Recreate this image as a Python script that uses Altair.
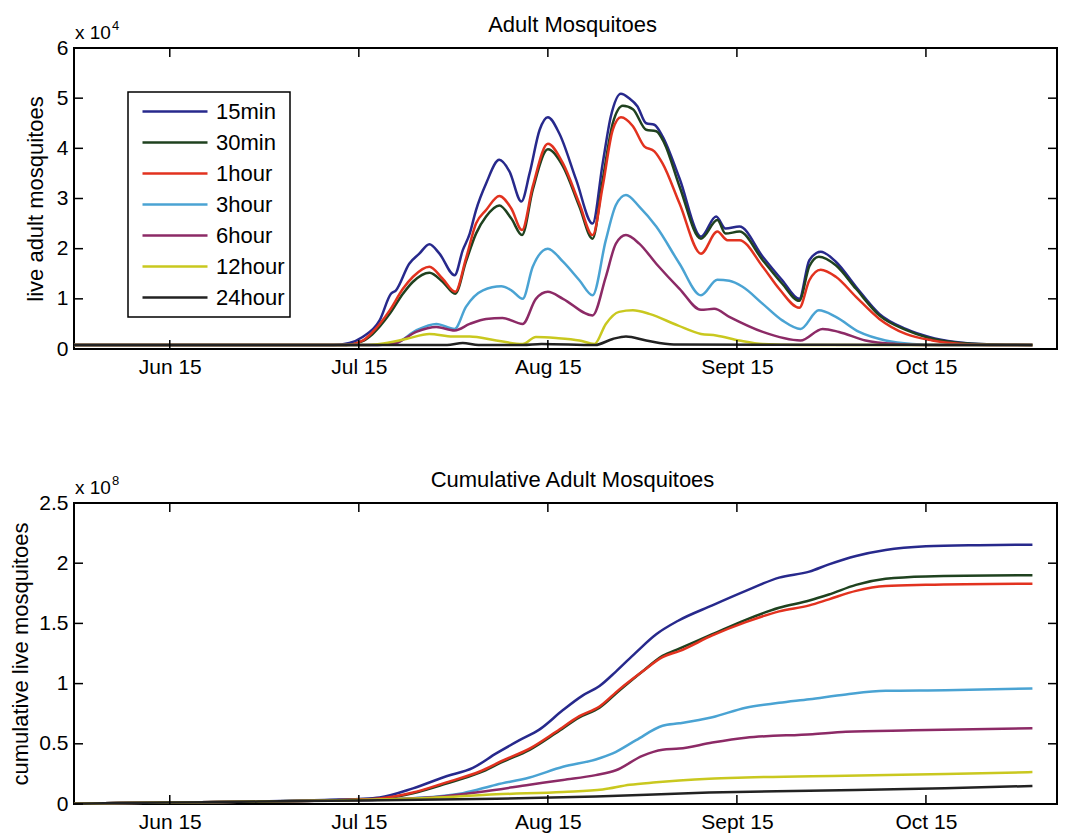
import altair as alt
import pandas as pd

FONT = "Liberation Sans"

series = ["15min", "30min", "1hour", "3hour", "6hour", "12hour", "24hour"]
colors = ["#27298c", "#1f421f", "#e2321f", "#4aa3d3", "#8c2a66", "#c9c81f", "#222222"]

# x axis: days relative to the "Jun 15" tick
tick_days = [0, 30, 60, 90, 120]
tick_names = ["Jun 15", "Jul 15", "Aug 15", "Sept 15", "Oct 15"]
x_domain = [-15.2, 140.8]

# ---- live adult mosquitoes (units of 10^4) ----
live_15min_day = [-15.2, 26, 28.5, 30.6, 33.3, 35.1, 35.9, 38, 39.6, 41.2, 42.8, 45.2, 46.5, 47.6, 48.6,
                  50.2, 52.3, 53.9, 55.8, 57.1, 58.7, 60, 61.8, 64.5, 67.1, 68.7, 70, 71.6, 72.9, 74.2,
                  75.6, 76.9, 78.2, 80.9, 84.3, 86.7, 88.2, 90.4, 94.1, 97.2, 99.9, 101.5, 103.3, 105.7,
                  108.9, 112.6, 116.8, 120.5, 124.7, 128.4, 136.9]
live_15min = [0.08, 0.08, 0.12, 0.24, 0.57, 1.1, 1.17, 1.7, 1.9, 2.09, 1.9, 1.47, 1.97, 2.3, 2.77,
              3.3, 3.77, 3.54, 2.94, 3.5, 4.37, 4.62, 4.3, 3.37, 2.5, 3.7, 4.64, 5.09, 5.0, 4.84,
              4.5, 4.47, 4.24, 3.4, 2.24, 2.64, 2.4, 2.44, 1.84, 1.37, 1.0, 1.77, 1.94, 1.74,
              1.24, 0.7, 0.4, 0.24, 0.14, 0.1, 0.08]

live_30min_day = [-15.2, 28, 30.5, 32.2, 34.9, 37, 38.6, 41.2, 43.3, 45.3, 47, 48.6, 50.2, 52.3, 54.2,
                  55.9, 57.6, 60, 62.4, 65, 67.1, 68.7, 70.3, 71.9, 73.5, 75.6, 77.2, 78.5, 80.9, 84.3,
                  86.9, 88.2, 90.4, 94.1, 97.2, 99.9, 101.5, 103, 105.7, 108.9, 112.6, 116.8, 120.5,
                  124.7, 128.4, 136.9]
live_30min = [0.08, 0.08, 0.15, 0.3, 0.7, 1.1, 1.34, 1.52, 1.34, 1.1, 1.74, 2.3, 2.64, 2.86, 2.6,
              2.27, 3.17, 3.98, 3.64, 2.84, 2.2, 3.37, 4.5, 4.85, 4.78, 4.37, 4.34, 4.1, 3.24, 2.2,
              2.57, 2.3, 2.34, 1.77, 1.3, 0.96, 1.65, 1.84, 1.67, 1.2, 0.67, 0.38, 0.22,
              0.13, 0.1, 0.08]

live_1hour_day = [-15.2, 28, 30.5, 32.2, 34.9, 37, 38.6, 41.2, 43.3, 45.3, 47, 48.6, 50.2, 52.3, 54.2,
                  55.9, 57.6, 60, 62.4, 65, 67.1, 68.7, 70.3, 71.6, 73.5, 75.3, 76.9, 78.2, 80.9, 84.3,
                  86.9, 88.5, 90.4, 94.1, 96.7, 99.9, 101.5, 103.3, 105.7, 108.9, 112.6, 116.8, 121,
                  125.8, 130, 136.9]
live_1hour = [0.08, 0.08, 0.16, 0.34, 0.77, 1.2, 1.44, 1.64, 1.4, 1.14, 1.8, 2.5, 2.77, 3.05, 2.8,
              2.37, 3.24, 4.09, 3.7, 2.9, 2.27, 3.24, 4.37, 4.62, 4.44, 4.04, 3.94, 3.7, 2.9, 1.9,
              2.34, 2.17, 2.17, 1.64, 1.2, 0.82, 1.37, 1.58, 1.44, 1.04, 0.6, 0.3, 0.17,
              0.1, 0.08, 0.08]

live_3hour_day = [-15.2, 33, 35.9, 39.1, 42.3, 45.2, 47, 49.7, 52.6, 54.2, 56, 57.6, 60, 62.4, 65,
                  67.1, 69.2, 70.8, 72.4, 74.5, 77.2, 80.9, 84.3, 86.9, 88.8, 90.9, 94.1, 97.2, 100.1,
                  103, 105.7, 109.4, 113.6, 117.8, 122, 136.9]
live_3hour = [0.08, 0.08, 0.12, 0.37, 0.5, 0.4, 0.84, 1.17, 1.25, 1.17, 1.0, 1.64, 2.0, 1.74, 1.37,
              1.07, 2.17, 2.87, 3.07, 2.84, 2.44, 1.7, 1.07, 1.38, 1.36, 1.24, 0.9, 0.57, 0.4,
              0.77, 0.64, 0.34, 0.17, 0.1, 0.08, 0.08]

live_6hour_day = [-15.2, 33, 35.9, 39.1, 42.3, 45.2, 47.6, 50.2, 52.8, 56, 58.1, 60, 62.4, 67.1, 69.2,
                  70.8, 72.4, 74.5, 77.2, 80.9, 84.3, 86.4, 88.8, 94.1, 100.1, 103.6, 106.2, 110.4,
                  115.2, 120, 136.9]
live_6hour = [0.08, 0.08, 0.12, 0.34, 0.44, 0.37, 0.5, 0.6, 0.62, 0.5, 1.0, 1.14, 1.0, 0.67, 1.44,
              2.1, 2.27, 2.1, 1.7, 1.2, 0.78, 0.8, 0.64, 0.34, 0.17, 0.4, 0.34, 0.17,
              0.1, 0.08, 0.08]

live_12hour_day = [-15.2, 31, 33.3, 37.5, 41.2, 44.9, 47.6, 51.8, 56, 58.1, 61.3, 65, 67.4, 69.2, 71.3,
                   73.5, 76.1, 80.6, 84.3, 86.7, 90.4, 94.1, 100, 136.9]
live_12hour = [0.08, 0.08, 0.1, 0.2, 0.3, 0.25, 0.25, 0.17, 0.1, 0.24, 0.22, 0.17, 0.1, 0.5, 0.74,
               0.77, 0.7, 0.47, 0.3, 0.27, 0.17, 0.1, 0.08, 0.08]

live_24hour_day = [-15.2, 44, 46.5, 49, 56, 59, 67.5, 70.3, 72.4, 75.6, 80, 136.9]
live_24hour = [0.08, 0.08, 0.12, 0.08, 0.08, 0.1, 0.08, 0.2, 0.25, 0.17, 0.09, 0.08]

# ---- cumulative live mosquitoes (units of 10^8) ----
cum_15min_day = [-15.2, 0, 14, 25.4, 30, 33.3, 38.6, 43.9, 48.1, 51.8, 55.5, 58.7, 62.4, 65.5, 68.2,
                 70.8, 74, 77.2, 80.6, 86.1, 91.4, 96.7, 101.5, 104.6, 108.9, 113.6, 120, 128.4, 136.9]
cum_15min = [0.003, 0.012, 0.02, 0.035, 0.042, 0.054, 0.13, 0.23, 0.3, 0.42, 0.53, 0.62, 0.78, 0.9, 0.98,
             1.1, 1.26, 1.41, 1.52, 1.65, 1.77, 1.88, 1.93, 1.99, 2.06, 2.11, 2.14, 2.15, 2.154]

cum_30min_day = [-15.2, 0, 14, 25.4, 30, 33.3, 38.6, 43.9, 49.2, 52.8, 57.1, 61.3, 65, 68.2, 71.3,
                 75, 78.2, 80.85, 86.1, 91.4, 96.7, 101.5, 104.6, 108.9, 113.6, 120, 136.9]
cum_30min = [0.003, 0.012, 0.02, 0.03, 0.036, 0.043, 0.09, 0.17, 0.26, 0.35, 0.45, 0.59, 0.72, 0.8, 0.94,
             1.1, 1.23, 1.29, 1.41, 1.53, 1.63, 1.69, 1.74, 1.82, 1.87, 1.89, 1.9]

cum_1hour_day = cum_30min_day
cum_1hour = [0.003, 0.012, 0.02, 0.03, 0.037, 0.046, 0.095, 0.18, 0.27, 0.36, 0.46, 0.6, 0.73, 0.81, 0.95,
             1.1, 1.22, 1.27, 1.4, 1.51, 1.6, 1.65, 1.7, 1.77, 1.81, 1.82, 1.83]

cum_3hour_day = [-15.2, 0, 14, 25.4, 33, 38.6, 46.5, 51.8, 57.1, 62.4, 67.6, 70.3, 74, 78.2, 80.85,
                 86.1, 91.4, 96.7, 101.5, 107.3, 113.6, 123.1, 136.9]
cum_3hour = [0.003, 0.012, 0.02, 0.03, 0.036, 0.048, 0.09, 0.16, 0.22, 0.31, 0.37, 0.42, 0.53, 0.65, 0.67,
             0.72, 0.8, 0.84, 0.87, 0.91, 0.94, 0.945, 0.96]

cum_6hour_day = [-15.2, 0, 14, 25.4, 33, 41.2, 49.2, 57.1, 62.4, 67.6, 70.8, 75, 78.2, 80.85, 86.1,
                 91.4, 102, 107.3, 117.9, 136.9]
cum_6hour = [0.003, 0.012, 0.02, 0.03, 0.036, 0.054, 0.1, 0.16, 0.2, 0.24, 0.28, 0.4, 0.45, 0.46, 0.51,
             0.55, 0.58, 0.6, 0.612, 0.63]

cum_12hour_day = [-15.2, 0, 14, 25.4, 41.2, 51.8, 62.4, 68.7, 73, 77.2, 80.85, 85.6, 91.4, 107.3, 123.1,
                  136.9]
cum_12hour = [0.003, 0.012, 0.02, 0.03, 0.05, 0.08, 0.1, 0.12, 0.16, 0.18, 0.195, 0.21, 0.22, 0.235, 0.25,
              0.265]

cum_24hour_day = [-15.2, 0, 14, 25.4, 51.8, 67.6, 85.6, 101.5, 123, 136.9]
cum_24hour = [0.003, 0.012, 0.02, 0.027, 0.043, 0.063, 0.095, 0.11, 0.13, 0.15]

live_days = [live_15min_day, live_30min_day, live_1hour_day, live_3hour_day,
             live_6hour_day, live_12hour_day, live_24hour_day]
live_vals = [live_15min, live_30min, live_1hour, live_3hour, live_6hour, live_12hour, live_24hour]
cum_days = [cum_15min_day, cum_30min_day, cum_1hour_day, cum_3hour_day,
            cum_6hour_day, cum_12hour_day, cum_24hour_day]
cum_vals = [cum_15min, cum_30min, cum_1hour, cum_3hour, cum_6hour, cum_12hour, cum_24hour]


def long_table(days_list, vals_list):
    rows = []
    for order, (name, days, vals) in enumerate(zip(series, days_list, vals_list)):
        for d, v in zip(days, vals):
            rows.append({"series": name, "order": order, "day": d, "value": v})
    return pd.DataFrame(rows)


live_df = long_table(live_days, live_vals)
cum_df = long_table(cum_days, cum_vals)

W, H = 983, 301
TICK = 9
x_scale = alt.Scale(domain=x_domain, nice=False, zero=False)
name_list = "[" + ",".join("'%s'" % n for n in tick_names) + "]"
day_list = "[" + ",".join(str(d) for d in tick_days) + "]"
x_axis = alt.Axis(values=tick_days, labelExpr=f"{name_list}[indexof({day_list}, datum.value)]",
                  ticks=False, tickSize=0, domain=False, grid=False, title=None,
                  labelFont=FONT, labelFontSize=21, labelColor="black", labelPadding=7)


def text_layer(txt, x, y, size, align="left"):
    return alt.Chart(pd.DataFrame({"t": [txt]})).mark_text(
        align=align, baseline="alphabetic", font=FONT, fontSize=size, color="black"
    ).encode(x=alt.value(x), y=alt.value(y), text="t:N")


def panel(df, y_max, y_ticks, y_title, title, exponent, show_legend, title_pad):
    y_scale = alt.Scale(domain=[0, y_max], nice=False, zero=True)
    y_axis = alt.Axis(values=y_ticks, labelExpr="'' + datum.value", ticks=False, tickSize=0,
                      domain=False, grid=False, title=y_title, titleFont=FONT, titleFontSize=22,
                      titleFontWeight="normal", titleColor="black", titlePadding=title_pad,
                      labelFont=FONT, labelFontSize=21, labelColor="black", labelPadding=6)
    if show_legend:
        legend = alt.Legend(title=None, orient="none", legendX=54, legendY=44,
                            symbolType="stroke", symbolSize=4225, symbolStrokeWidth=2.5,
                            clipHeight=29, rowPadding=2, padding=5, symbolOffset=8, labelOffset=7,
                            labelFont=FONT, labelFontSize=22, labelColor="black",
                            strokeColor="black", fillColor="white")
    else:
        legend = None

    lines = alt.Chart(df).mark_line(strokeWidth=2.5, interpolate="monotone").encode(
        x=alt.X("day:Q", scale=x_scale, axis=x_axis),
        y=alt.Y("value:Q", scale=y_scale, axis=y_axis),
        color=alt.Color("series:N", scale=alt.Scale(domain=series, range=colors), legend=legend),
        order=alt.Order("order:Q"),
    )

    # inward-pointing tick marks on all four sides of the box
    xt = pd.DataFrame({"day": tick_days})
    yt = pd.DataFrame({"value": y_ticks})
    rule = dict(color="black", strokeWidth=1.5)
    x_enc = alt.X("day:Q", scale=x_scale, axis=x_axis)
    y_enc = alt.Y("value:Q", scale=y_scale, axis=y_axis)
    ticks_bottom = alt.Chart(xt).mark_rule(**rule).encode(x=x_enc, y=alt.value(H), y2=alt.value(H - TICK))
    ticks_top = alt.Chart(xt).mark_rule(**rule).encode(x=x_enc, y=alt.value(0), y2=alt.value(TICK))
    ticks_left = alt.Chart(yt).mark_rule(**rule).encode(y=y_enc, x=alt.value(0), x2=alt.value(TICK))
    ticks_right = alt.Chart(yt).mark_rule(**rule).encode(y=y_enc, x=alt.value(W - TICK), x2=alt.value(W))

    heading = text_layer(title, W / 2 + 7, -16, 22, align="center")
    base_txt = text_layer("x 10", 1, -9, 19)
    exp_txt = text_layer(exponent, 38, -18, 13)

    return alt.layer(lines, ticks_bottom, ticks_top, ticks_left, ticks_right,
                     heading, base_txt, exp_txt).properties(width=W, height=H)


top = panel(live_df, 6, [0, 1, 2, 3, 4, 5, 6], "live adult mosquitoes", "Adult Mosquitoes", "4", True, 9)
bottom = panel(cum_df, 2.5, [0, 0.5, 1, 1.5, 2, 2.5], "cumulative live mosquitoes",
               "Cumulative Adult Mosquitoes", "8", False, 6)

chart = alt.vconcat(top, bottom, spacing=90).resolve_legend(color="independent").properties(
    padding={"left": 8, "top": 13, "right": 5, "bottom": 2}
).configure_view(stroke="black", strokeWidth=2).configure_legend(strokeWidth=1.5)

chart.save("out.html", embed_options={"renderer": "svg", "actions": False})
